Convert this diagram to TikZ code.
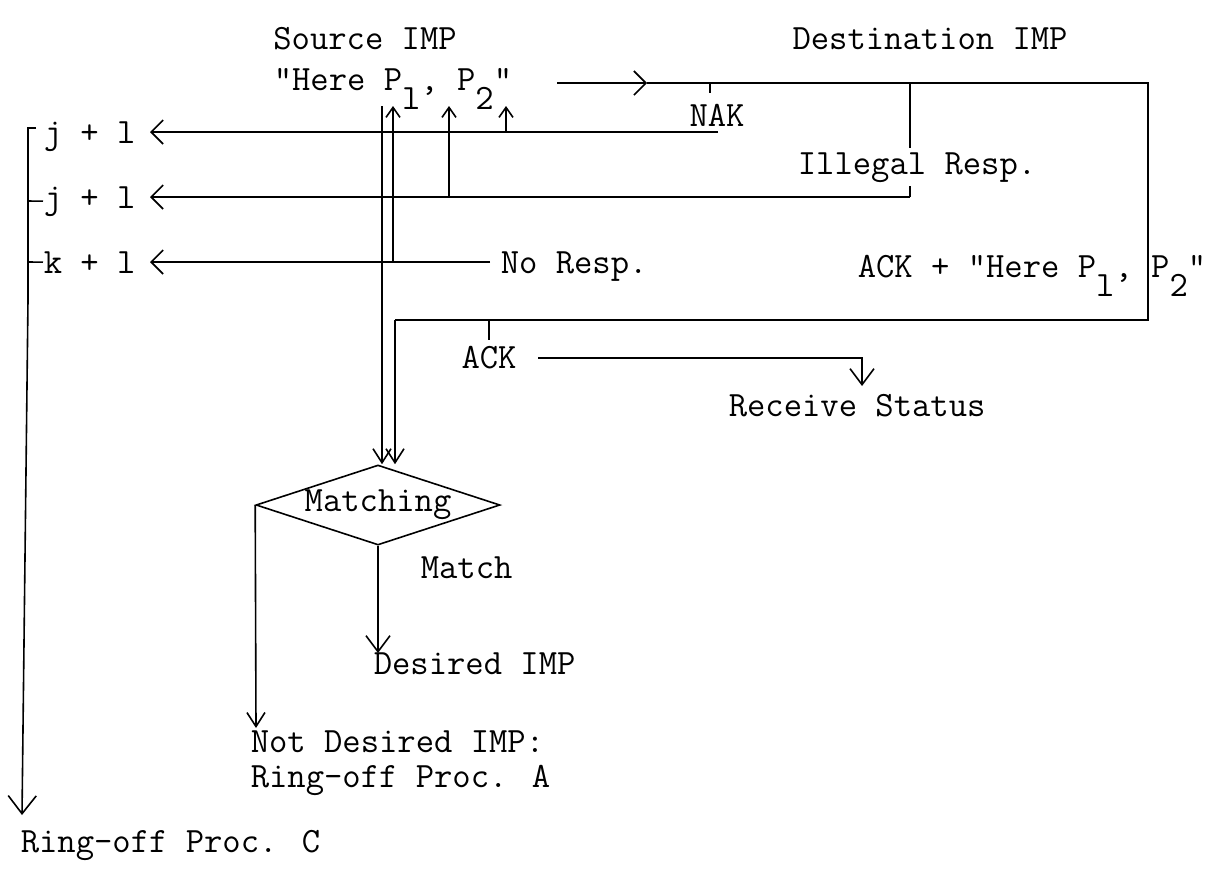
\documentclass[tikz,border=0pt]{standalone}
\usepackage{fontspec}
\usetikzlibrary{arrows.meta,shapes.geometric}
\newcommand\dn[1]{\raisebox{-0.55em}{#1}}
\begin{document}
\begin{tikzpicture}[x=0.5bp,y=-0.5bp, line width=0.8bp,
  txt/.style={inner sep=0pt, font=\ttfamily\fontsize{17.8bp}{22bp}\selectfont},
  bigL/.style={-{Straight Barb[length=6bp,width=12bp]}},
  upA/.style={-{Straight Barb[length=5bp,width=7bp]}},
  medA/.style={-{Straight Barb[length=7bp,width=9bp]}},
  desA/.style={-{Straight Barb[length=8bp,width=12bp]}},
  bigD/.style={-{Straight Barb[length=9bp,width=14bp]}}]
\useasboundingbox (0,0) rectangle (1229,874);
% texts
\node[txt,anchor=base] (src) at (365,49) {Source IMP};
\node[txt,anchor=base] (dst) at (930,49) {Destination IMP};
\node[txt,anchor=base west] (here) at (273,90) {"Here P\dn{l}, P\dn{2}"};
\node[txt,anchor=base] (nak) at (717,126) {NAK};
\node[txt,anchor=base west] (j1) at (43,143) {j + l};
\node[txt,anchor=base west] (j2) at (43,208) {j + l};
\node[txt,anchor=base west] (k1) at (43,273) {k + l};
\node[txt,anchor=base west] (nores) at (500,273) {No Resp.};
\node[txt,anchor=base west] (ackhere) at (857,277) {ACK + "Here P\dn{l}, P\dn{2}"};
\node[txt,anchor=base] (ack) at (489,368) {ACK};
\node[txt,anchor=base west] (recv) at (728,416) {Receive Status};
\node[txt,anchor=base west] (match) at (420,578) {Match};
\node[txt,anchor=base west] (des) at (373,674) {Desired IMP};
\node[txt,anchor=base west] (notdes) at (250,752) {Not Desired IMP:};
\node[txt,anchor=base west] (ringa) at (250,787) {Ring-off Proc. A};
\node[txt,anchor=base west] (ringc) at (20,852) {Ring-off Proc. C};
\node[draw,diamond,aspect=3,inner sep=0pt,minimum width=122bp,minimum height=40bp,
  font=\ttfamily\fontsize{17.8bp}{22bp}\selectfont] (diam) at (378,505) {Matching};
% coordinates
\coordinate (tstart) at (557,83);
\coordinate (tmid) at (647,83);
\coordinate (nakT) at (710,83);
\coordinate (ilT) at (910,83);
\coordinate (TR) at (1148,83);
\coordinate (BR) at (1148,320);
\coordinate (BL) at (395,320);
\coordinate (ackT) at (489,320);
\coordinate (r1s) at (718,132);
\coordinate (r1e) at (150,132);
\coordinate (r2s) at (910,197);
\coordinate (r2e) at (150,197);
\coordinate (r3s) at (490,262);
\coordinate (r3e) at (150,262);
\coordinate (u1) at (506,132);
\coordinate (u2) at (449,197);
\coordinate (u3) at (393,262);
\coordinate (vtop) at (382,106);
\coordinate (ackS) at (538,358);
\coordinate (ackC) at (862,358);
\coordinate (recvT) at (862,386);
\coordinate (brT) at (36,128);
\coordinate (brC) at (28,128);
\coordinate (brM) at (28,300);
\coordinate (brB) at (22,815);
\coordinate (b2) at (28,201);
\coordinate (b3) at (28,262);
\coordinate (notT) at (256,728);
\coordinate (desT) at (378,653);
% main request line and ACK return
\draw[bigL] (tstart) -- (tmid);
\draw (tmid) -- (TR) -- (BR) -- (BL);
\draw[medA] (BL) -- (BL |- diam.north);
\draw (nakT) -- ++(0,10);
\draw (ackT) -- ++(0,20);
\draw[desA] (ackS) -- (ackC) -- (recvT);
% illegal response
\draw (ilT) -- (r2s);
\draw[bigL] (r2s) -- (r2e);
\node[txt,anchor=base,fill=white,inner sep=2bp] (ill) at (917,174) {Illegal Resp.};
% rows
\draw[bigL] (r1s) -- (r1e);
\draw[bigL] (r3s) -- (r3e);
\draw[upA] (u1) -- (u1 |- vtop);
\draw[upA] (u2) -- (u2 |- vtop);
\draw[upA] (u3) -- (u3 |- vtop);
\draw[medA] (vtop) -- (vtop |- diam.north);
% diamond outputs
\draw[desA] (diam.south) -- (desT);
\draw[medA] (diam.west) -- (notT);
% left bracket
\draw (brT) -- (brC) -- (brM);
\draw[bigD] (brM) -- (brB);
\draw (b2) -- (j2.west);
\draw (b3) -- (k1.west);
\end{tikzpicture}
\end{document}
